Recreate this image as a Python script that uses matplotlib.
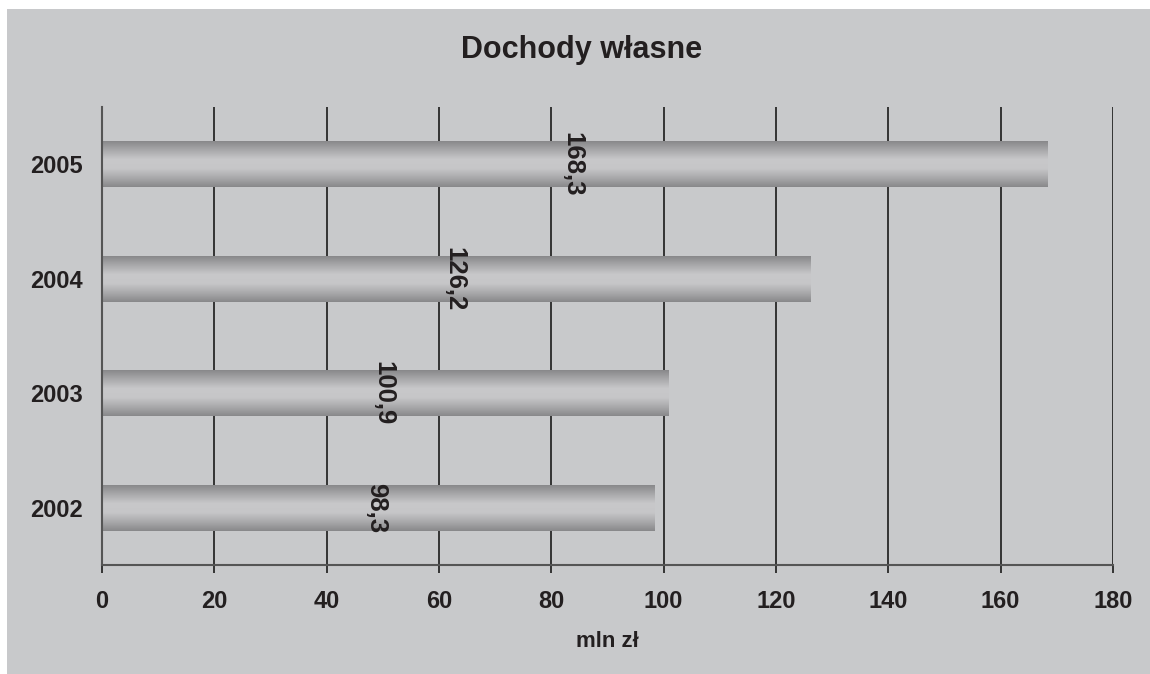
import numpy as np
import matplotlib
matplotlib.use("Agg")
import matplotlib.pyplot as plt
from matplotlib.patches import Rectangle
from matplotlib.colors import LinearSegmentedColormap

years = ["2002", "2003", "2004", "2005"]
values = [98.3, 100.9, 126.2, 168.3]
labels = ["98,3", "100,9", "126,2", "168,3"]
xticks = [0, 20, 40, 60, 80, 100, 120, 140, 160, 180]
title = "Dochody własne"
xlabel = "mln zł"

plt.rcParams['font.family'] = ['Liberation Sans', 'DejaVu Sans']
txt = "#231f20"
bg = "#c8c9cb"

fig = plt.figure(figsize=(11.5, 6.74), dpi=100)
fig.patch.set_facecolor("white")
fig.patches.append(Rectangle((7/1150, 0), 1 - 7/1150, 1 - 9/674, transform=fig.transFigure,
                             facecolor=bg, edgecolor="none", zorder=-10))

ax = fig.add_axes([102/1150, 109/674, 1011/1150, 458/674])
ax.set_facecolor("none")

cmap = LinearSegmentedColormap.from_list("cyl", ["#88888a", "#a9a9ab", "#c8c8ca", "#c6c6c8", "#a9a9ab", "#88888a"])
grad = np.linspace(0, 1, 256).reshape(-1, 1)
h = 0.4
ypos = np.arange(len(years))
bars = ax.barh(ypos, values, height=h, color="none", zorder=2)
for b, v, lab, y in zip(bars, values, labels, ypos):
    ax.imshow(grad, cmap=cmap, aspect="auto", extent=(0, v, y - h/2, y + h/2),
              origin="upper", zorder=2, interpolation="bicubic")
    ax.text(v / 2 - 0.4, y, lab, rotation=270, ha="center", va="center", fontsize=18.5,
            fontweight="bold", color=txt, zorder=3)

ax.set_xlim(0, 180)
ax.set_ylim(-0.5, 3.5)
ax.set_xticks(xticks)
ax.set_xticklabels([str(t) for t in xticks])
ax.set_yticks(ypos)
ax.set_yticklabels(years)
ax.xaxis.grid(True, color="#1a1a1a", linewidth=1.2)
ax.yaxis.grid(False)
ax.set_axisbelow(True)
for s in ["top", "right"]:
    ax.spines[s].set_visible(False)
ax.spines["left"].set_color("#555555")
ax.spines["bottom"].set_color("#555555")
ax.spines["left"].set_linewidth(1.5)
ax.spines["bottom"].set_linewidth(1.5)
ax.tick_params(axis="x", length=6, width=1.2, color="#1a1a1a", labelsize=17, pad=12, labelcolor=txt)
ax.tick_params(axis="y", length=0, labelsize=17, pad=14, labelcolor=txt)
for lab in ax.get_xticklabels() + ax.get_yticklabels():
    lab.set_fontweight("bold")

ax.set_xlabel(xlabel, fontsize=16, fontweight="bold", color=txt, labelpad=13)
fig.text(582/1150, 1 - 50/674, title, ha="center", va="center", fontsize=22,
         fontweight="bold", color=txt)

fig.savefig("out.png", dpi=100)
